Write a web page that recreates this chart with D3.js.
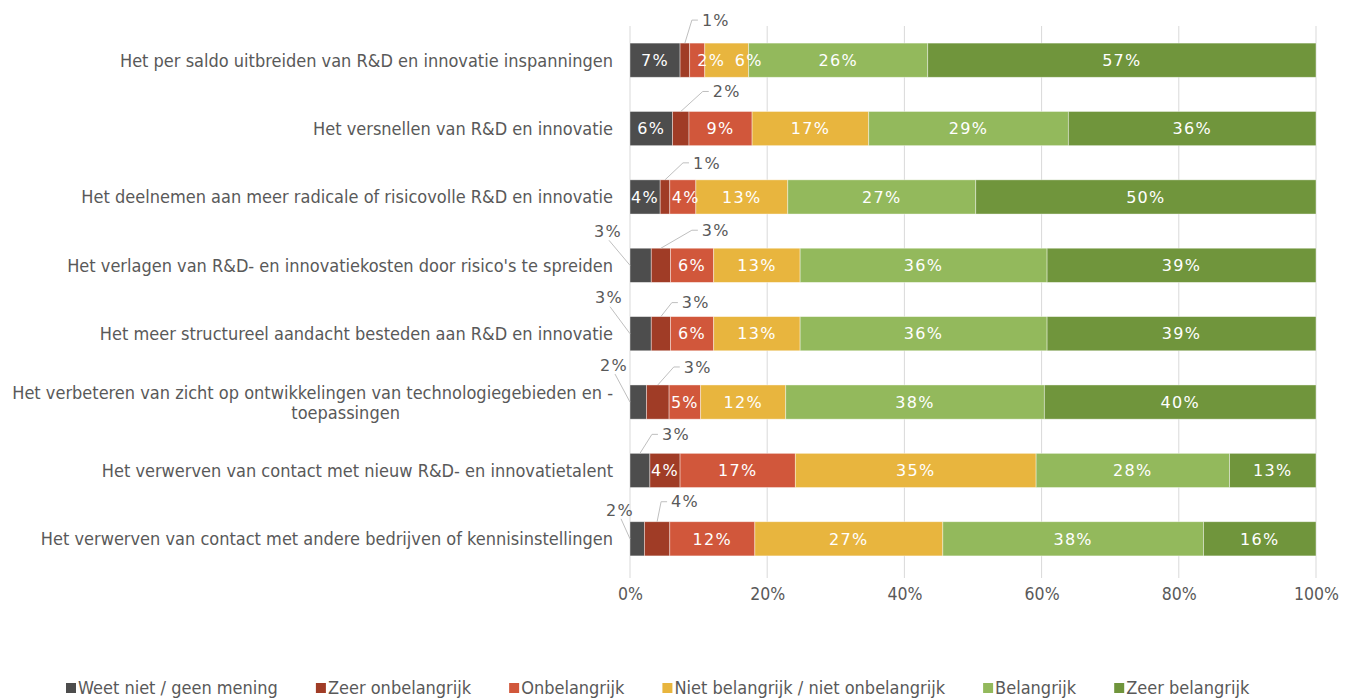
<!DOCTYPE html>
<meta charset="utf-8">
<title>R&D en innovatie</title>
<script src="https://d3js.org/d3.v7.min.js"></script>
<style>
  body { margin: 0; background: #fff; }
  .cat, .tick text, .legend text { font-family: "DejaVu Sans Condensed", "DejaVu Sans", sans-serif; font-stretch: condensed; fill: #595959; }
  .lbl { font-family: "DejaVu Sans", Verdana, sans-serif; letter-spacing: 1.3px; }
</style>
<div id="chart"></div>
<script>
// categories (top to bottom)
var categories = [
  "Het per saldo uitbreiden van R&D en innovatie inspanningen",
  "Het versnellen van R&D en innovatie",
  "Het deelnemen aan meer radicale of risicovolle R&D en innovatie",
  "Het verlagen van R&D- en innovatiekosten door risico's te spreiden",
  "Het meer structureel aandacht besteden aan R&D en innovatie",
  "Het verbeteren van zicht op ontwikkelingen van technologiegebieden en -|toepassingen",
  "Het verwerven van contact met nieuw R&D- en innovatietalent",
  "Het verwerven van contact met andere bedrijven of kennisinstellingen"
];
var seriesNames = ["Weet niet / geen mening", "Zeer onbelangrijk", "Onbelangrijk",
  "Niet belangrijk / niet onbelangrijk", "Belangrijk", "Zeer belangrijk"];

// percentages per series, same order as categories
var weetNiet         = [7.3, 6.2, 4.4, 3.1, 3.1, 2.4, 2.9, 2.1];
var zeerOnbelangrijk = [1.4, 2.4, 1.4, 2.8, 2.8, 3.3, 4.4, 3.7];
var onbelangrijk     = [2.2, 9.2, 3.8, 6.3, 6.3, 4.6, 16.8, 12.4];
var nietBelangrijk   = [6.4, 17.0, 13.4, 12.6, 12.6, 12.4, 35.1, 27.4];
var belangrijk       = [26.1, 29.1, 27.4, 36.0, 36.0, 37.7, 28.2, 38.0];
var zeerBelangrijk   = [56.6, 36.1, 49.6, 39.2, 39.2, 39.6, 12.6, 16.4];

var xTicks = [0, 0.2, 0.4, 0.6, 0.8, 1];

var colors = ["#4d4d4d", "#a03c26", "#d1573b", "#e8b53e", "#93b95c", "#70953c"];

// small segments get their label outside, with a leader line
// [row, series, dx, dy, side]
var callouts = [
  [0, 1, 7, -23, "top"], [1, 1, 22, -20, "top"], [2, 1, 18, -17, "top"],
  [3, 0, -21, -25, "left"], [3, 1, 31, -18, "top"],
  [4, 0, -20, -27, "left"], [4, 1, 11, -14, "top"],
  [5, 0, -15, -28, "left"], [5, 1, 16, -18, "top"],
  [6, 0, 12, -19, "top"],
  [7, 0, -9, -20, "left"], [7, 1, 4, -20, "top"]
];
// labels Excel pushed aside
var labelShift = { "0-2": 14, "0-3": 22, "2-2": 3 };

var W = 1357, H = 699;
var margin = {top: 26, right: 41, bottom: 126, left: 630};
var width = W - margin.left - margin.right,
    height = H - margin.top - margin.bottom;

var svg = d3.select("#chart").append("svg")
    .attr("width", W).attr("height", H);
var g = svg.append("g")
    .attr("transform", "translate(" + margin.left + "," + margin.top + ")");

var rows = categories.map(function(c, i) {
  return {cat: c, s0: weetNiet[i], s1: zeerOnbelangrijk[i], s2: onbelangrijk[i],
          s3: nietBelangrijk[i], s4: belangrijk[i], s5: zeerBelangrijk[i]};
});
var keys = ["s0", "s1", "s2", "s3", "s4", "s5"];
var stacked = d3.stack().keys(keys).offset(d3.stackOffsetExpand)(rows);

var x = d3.scaleLinear().domain([0, 1]).range([0, width]);
var y = d3.scaleBand().domain(categories).range([0, height])
    .paddingInner(0.5).paddingOuter(0.25);

// gridlines
g.selectAll(".grid").data(xTicks).enter().append("line")
  .attr("x1", function(d) { return x(d); }).attr("x2", function(d) { return x(d); })
  .attr("y1", 0).attr("y2", height + 5)
  .attr("stroke", "#d9d9d9").attr("stroke-width", 1);

// x axis labels
var xAxis = g.append("g")
  .attr("transform", "translate(0," + height + ")")
  .call(d3.axisBottom(x).tickValues(xTicks).tickFormat(d3.format(".0%")).tickSize(0).tickPadding(15));
xAxis.select(".domain").remove();
xAxis.selectAll("text").style("font-size", "17.5px");

// bars
var layer = g.selectAll(".layer").data(stacked).enter().append("g")
  .attr("fill", function(d, i) { return colors[i]; });
layer.selectAll("rect").data(function(d) { return d; }).enter().append("rect")
  .attr("x", function(d) { return x(d[0]); })
  .attr("width", function(d) { return x(d[1]) - x(d[0]); })
  .attr("y", function(d) { return y(d.data.cat); })
  .attr("height", y.bandwidth())
  .attr("stroke", "#ffffff").attr("stroke-opacity", 0.5).attr("stroke-width", 0.8);

// data labels
var isCallout = {};
callouts.forEach(function(c) { isCallout[c[0] + "-" + c[1]] = c; });

stacked.forEach(function(ser, si) {
  ser.forEach(function(d, ri) {
    var val = Math.round((d[1] - d[0]) * 100) + "%";
    var k = ri + "-" + si;
    var yc = y(d.data.cat) + y.bandwidth() / 2;
    var c = isCallout[k];
    if (!c) {
      g.append("text").attr("class", "lbl")
        .attr("x", (x(d[0]) + x(d[1])) / 2 + (labelShift[k] || 0))
        .attr("y", yc).attr("dy", "0.36em")
        .attr("text-anchor", "middle").attr("fill", "#ffffff")
        .style("font-size", "16px").text(val);
    } else if (c[4] === "top") {
      var ax = (x(d[0]) + x(d[1])) / 2, ay = y(d.data.cat);
      var ex = ax + c[2], ey = ay + c[3];
      g.append("path")
        .attr("d", "M" + ax + "," + ay + "L" + ex + "," + ey + "L" + (ex + 6) + "," + ey)
        .attr("fill", "none").attr("stroke", "#bfbfbf").attr("stroke-width", 1);
      g.append("text").attr("class", "lbl")
        .attr("x", ex + 10).attr("y", ey).attr("dy", "0.36em")
        .attr("fill", "#595959").style("font-size", "16px").text(val);
    } else {
      var lx = x(d[0]), ly = yc;
      var ex2 = lx + c[2], ey2 = ly + c[3];
      g.append("line")
        .attr("x1", lx).attr("y1", ly).attr("x2", ex2).attr("y2", ey2)
        .attr("stroke", "#bfbfbf").attr("stroke-width", 1);
      g.append("text").attr("class", "lbl")
        .attr("x", ex2 + 13).attr("y", ey2 - 9).attr("dy", "0.36em")
        .attr("text-anchor", "end")
        .attr("fill", "#595959").style("font-size", "16px").text(val);
    }
  });
});

// category labels
categories.forEach(function(c) {
  var parts = c.split("|");
  var yc = y(c) + y.bandwidth() / 2;
  if (parts.length === 1) {
    g.append("text").attr("class", "cat")
      .attr("x", -17).attr("y", yc).attr("dy", "0.36em")
      .attr("text-anchor", "end").style("font-size", "18px").text(c);
  } else {
    var t1 = g.append("text").attr("class", "cat")
      .attr("x", -17).attr("y", yc - 10).attr("dy", "0.36em")
      .attr("text-anchor", "end").style("font-size", "18px").text(parts[0]);
    var len = t1.node().getComputedTextLength();
    g.append("text").attr("class", "cat")
      .attr("x", -17 - len / 2 + 33).attr("y", yc + 10).attr("dy", "0.36em")
      .attr("text-anchor", "middle").style("font-size", "18px").text(parts[1]);
  }
});

// legend
var legend = svg.append("g").attr("class", "legend")
  .attr("transform", "translate(66," + 688 + ")");
var lx0 = 0;
seriesNames.forEach(function(n, i) {
  var it = legend.append("g").attr("transform", "translate(" + lx0 + ",0)");
  it.append("rect").attr("x", 0).attr("y", -5).attr("width", 10).attr("height", 10)
    .attr("fill", colors[i]);
  var t = it.append("text").attr("x", 12).attr("y", 0).attr("dy", "0.36em")
    .style("font-size", "18px").text(n);
  lx0 += 12 + t.node().getComputedTextLength() + 38;
});
</script>
